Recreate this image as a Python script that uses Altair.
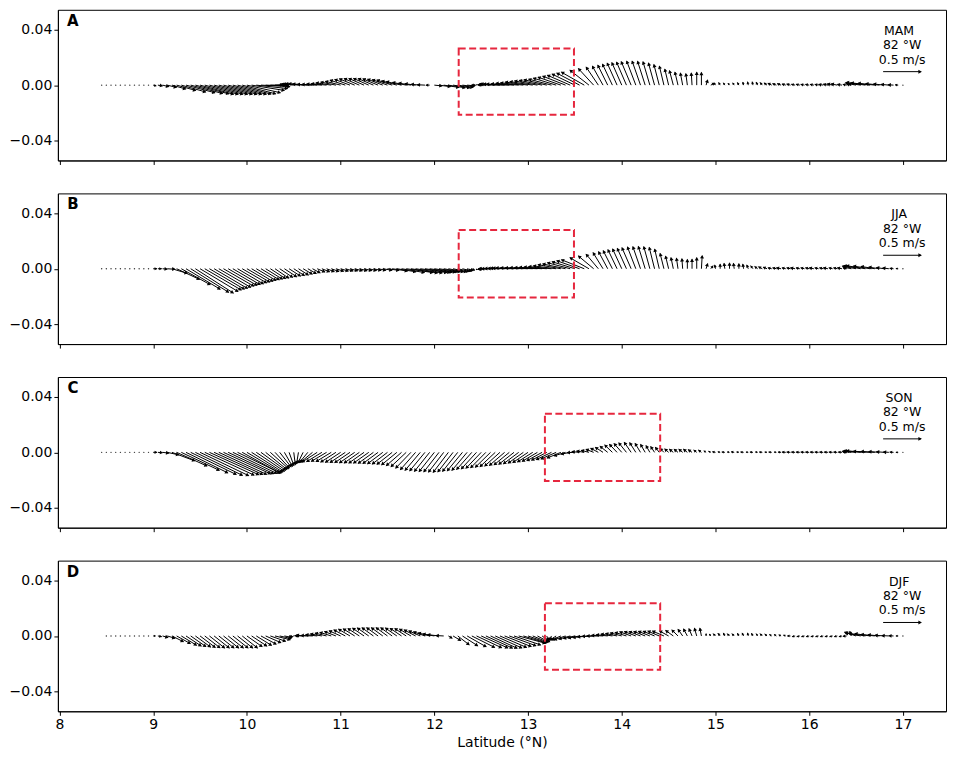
import numpy as np
import pandas as pd
import altair as alt

# ---------------- data ----------------
# stations (latitude, deg N) every 0.05 deg from 8.45 to 17.00
LAT = [round(8.45 + 0.05 * i, 2) for i in range(172)]

SEASONS = ["MAM", "JJA", "SON", "DJF"]
LETTERS = ["A", "B", "C", "D"]
LONGITUDE = "82 °W"
KEY_SPEED = 0.5  # m/s

# red dashed boxes (lat / y-axis units)
BOX_X1 = [12.26, 12.26, 13.18, 13.18]
BOX_X2 = [13.49, 13.49, 14.41, 14.41]
BOX_Y1 = [-0.0214, -0.0207, -0.0207, -0.0243]
BOX_Y2 = [0.0264, 0.0279, 0.0279, 0.0236]

Z11 = [0, 0, 0, 0, 0, 0, 0, 0, 0, 0, 0]

# ---- MAM ----
MAM_U = (Z11 +
    [0.04, 0.06, 0.08, 0.12, 0.18, 0.25, 0.32, 0.38, 0.42, 0.44, 0.44, 0.44, 0.44, 0.44, 0.44, 0.44, 0.44, 0.44, 0.44, 0.44] +
    [0.44, 0.43, 0.41, 0.38, 0.30, 0.20, 0.10, 0.02, -0.05, -0.10, -0.14, -0.17, -0.19, -0.20, -0.20, -0.20, -0.20, -0.20, -0.20, -0.20] +
    [-0.20, -0.20, -0.20, -0.20, -0.20, -0.20, -0.20, -0.20, -0.20, -0.20, -0.20, -0.20, -0.20, -0.20, -0.18, -0.16, -0.14, -0.12, -0.10, -0.05] +
    [0.10, 0.15, 0.20, 0.22, 0.22, 0.20, 0.15, 0.10, 0.05, 0.00, -0.05, -0.10, -0.15, -0.20, -0.25, -0.28, -0.30, -0.30, -0.30, -0.30] +
    [-0.30, -0.30, -0.30, -0.30, -0.30, -0.30, -0.30, -0.30, -0.30, -0.30, -0.30, -0.30, -0.30, -0.25, -0.20, -0.16, -0.14, -0.13, -0.13, -0.13] +
    [-0.13, -0.13, -0.13, -0.12, -0.11, -0.10, -0.09, -0.08, -0.07, -0.06, -0.05, -0.05, -0.04, -0.03, -0.02, -0.01, 0.00, 0.00, 0.02, 0.05] +
    [-0.02, -0.02, -0.02, -0.02, -0.02, -0.02, -0.01, -0.01, -0.01, -0.02, -0.03, -0.04, -0.05, -0.05, -0.05, -0.05, -0.05, -0.05, -0.05, -0.05] +
    [-0.05, -0.05, -0.05, -0.06, -0.06, -0.07, -0.08, -0.06, -0.05, -0.06, -0.10, -0.20, -0.25, -0.25, -0.22, -0.18, -0.14, -0.10, -0.07, -0.04] +
    [0])
MAM_V = (Z11 +
    [-0.01, -0.01, -0.02, -0.03, -0.05, -0.07, -0.09, -0.10, -0.11, -0.115, -0.12, -0.12, -0.12, -0.12, -0.12, -0.12, -0.12, -0.12, -0.118, -0.115] +
    [-0.10, -0.07, -0.045, -0.02, -0.01, 0.00, 0.005, 0.01, 0.01, 0.015, 0.015, 0.02, 0.02, 0.015, 0.01, 0.01, 0.015, 0.02, 0.03, 0.04] +
    [0.05, 0.065, 0.075, 0.082, 0.086, 0.088, 0.088, 0.086, 0.082, 0.078, 0.072, 0.066, 0.056, 0.046, 0.036, 0.026, 0.018, 0.01, 0.005, 0.00] +
    [-0.01, -0.02, -0.03, -0.035, -0.035, -0.03, -0.02, -0.01, 0.00, 0.005, 0.005, 0.008, 0.01, 0.012, 0.013, 0.013, 0.013, 0.017, 0.024, 0.03] +
    [0.04, 0.046, 0.055, 0.063, 0.071, 0.079, 0.092, 0.105, 0.118, 0.13, 0.145, 0.158, 0.17, 0.197, 0.217, 0.237, 0.25, 0.263, 0.276, 0.29] +
    [0.296, 0.303, 0.309, 0.316, 0.316, 0.313, 0.307, 0.29, 0.27, 0.25, 0.21, 0.19, 0.17, 0.158, 0.15, 0.158, 0.17, 0.165, 0.066, 0.026] +
    [0.03, 0.035, 0.03, 0.025, 0.03, 0.035, 0.04, 0.045, 0.045, 0.04, 0.035, 0.03, 0.025, 0.02, 0.02, 0.015, 0.015, 0.012, 0.012, 0.01] +
    [0.01, 0.01, 0.01, 0.01, 0.012, 0.015, 0.015, 0.01, 0.01, 0.012, 0.02, 0.03, 0.035, 0.03, 0.025, 0.02, 0.015, 0.01, 0.005, 0.003] +
    [0])

# ---- JJA ----
JJA_U = (Z11 +
    [0.05, 0.05, 0.06, 0.10, 0.20, 0.30, 0.38, 0.45, 0.50, 0.50, 0.50, 0.48, 0.46, 0.44, 0.42, 0.40, 0.38, 0.36, 0.34, 0.32] +
    [0.30, 0.28, 0.26, 0.24, 0.22, 0.20, 0.18, 0.17, 0.16, 0.15, 0.14, 0.13, 0.12, 0.11, 0.10, 0.10, 0.10, 0.10, 0.10, 0.10] +
    [0.10, 0.10, 0.10, 0.10, 0.10, 0.10, 0.10, 0.10, 0.10, 0.12, 0.15, 0.20, 0.25, 0.30, 0.35, 0.35, 0.35, 0.35, 0.33, 0.30] +
    [0.28, 0.25, 0.22, 0.20, 0.18, 0.15, 0.12, 0.08, 0.04, 0.00, -0.05, -0.10, -0.15, -0.18, -0.20, -0.22, -0.25, -0.28, -0.30, -0.30] +
    [-0.30, -0.30, -0.30, -0.30, -0.30, -0.30, -0.30, -0.30, -0.30, -0.30, -0.30, -0.30, -0.30, -0.25, -0.20, -0.16, -0.13, -0.12, -0.12, -0.12] +
    [-0.12, -0.12, -0.12, -0.11, -0.10, -0.09, -0.08, -0.07, -0.06, -0.05, -0.04, -0.03, -0.02, -0.01, 0.00, 0.00, 0.00, 0.01, 0.02, 0.03] +
    [-0.01, 0.00, -0.01, 0.00, -0.01, 0.00, -0.01, -0.02, -0.03, -0.04, -0.05, -0.05, -0.05, -0.05, -0.06, -0.05, -0.05, -0.06, -0.05, -0.05] +
    [-0.05, -0.06, -0.05, -0.05, -0.06, -0.05, -0.05, -0.06, -0.05, -0.10, -0.18, -0.22, -0.25, -0.22, -0.18, -0.14, -0.10, -0.08, -0.05, -0.03] +
    [0])
JJA_V = (Z11 +
    [0.00, 0.00, -0.005, -0.007, -0.06, -0.14, -0.21, -0.27, -0.31, -0.32, -0.30, -0.28, -0.27, -0.26, -0.245, -0.23, -0.22, -0.21, -0.20, -0.185] +
    [-0.175, -0.167, -0.155, -0.145, -0.137, -0.13, -0.124, -0.113, -0.105, -0.097, -0.09, -0.082, -0.071, -0.063, -0.054, -0.043, -0.04, -0.038, -0.036, -0.033] +
    [-0.031, -0.029, -0.028, -0.027, -0.026, -0.025, -0.024, -0.022, -0.02, -0.02, -0.022, -0.03, -0.04, -0.05, -0.05, -0.055, -0.055, -0.05, -0.05, -0.045] +
    [-0.045, -0.04, -0.04, -0.04, -0.04, -0.035, -0.03, -0.025, -0.02, -0.015, -0.01, -0.005, 0.00, 0.00, 0.003, 0.005, 0.007, 0.008, 0.01, 0.012] +
    [0.012, 0.013, 0.015, 0.018, 0.022, 0.028, 0.037, 0.053, 0.063, 0.079, 0.092, 0.105, 0.118, 0.145, 0.167, 0.19, 0.21, 0.224, 0.237, 0.25] +
    [0.26, 0.267, 0.276, 0.285, 0.29, 0.293, 0.29, 0.28, 0.257, 0.20, 0.165, 0.145, 0.138, 0.13, 0.12, 0.125, 0.145, 0.17, 0.066, 0.04] +
    [0.05, 0.06, 0.07, 0.075, 0.07, 0.065, 0.06, 0.05, 0.04, 0.03, 0.025, 0.02, 0.012, 0.012, 0.012, 0.012, 0.012, 0.012, 0.012, 0.012] +
    [0.012, 0.012, 0.012, 0.012, 0.012, 0.012, 0.012, 0.012, 0.012, 0.02, 0.035, 0.04, 0.04, 0.035, 0.03, 0.02, 0.015, 0.01, 0.005, 0.002] +
    [0])

# ---- SON ----
SON_U = (Z11 +
    [0.05, 0.06, 0.08, 0.15, 0.30, 0.40, 0.50, 0.55, 0.60, 0.62, 0.64, 0.65, 0.65, 0.64, 0.63, 0.62, 0.60, 0.58, 0.56, 0.50] +
    [0.456, 0.41, 0.37, 0.325, 0.28, 0.24, 0.19, 0.15, 0.106, 0.063, 0.02, -0.025, -0.07, -0.11, -0.156, -0.20, -0.20, -0.20, -0.20, -0.20] +
    [-0.20, -0.20, -0.20, -0.20, -0.20, -0.20, -0.20, -0.20, -0.20, -0.20, -0.20, -0.20, -0.20, -0.20, -0.20, -0.20, -0.20, -0.20, -0.20, -0.20] +
    [-0.20, -0.20, -0.20, -0.20, -0.20, -0.20, -0.20, -0.20, -0.20, -0.20, -0.20, -0.20, -0.20, -0.20, -0.20, -0.20, -0.20, -0.20, -0.20, -0.20] +
    [-0.20, -0.20, -0.20, -0.20, -0.20, -0.20, -0.20, -0.18, -0.15, -0.12, -0.10, -0.10, -0.10, -0.10, -0.10, -0.10, -0.10, -0.10, -0.10, -0.10] +
    [-0.10, -0.10, -0.09, -0.08, -0.07, -0.06, -0.05, -0.05, -0.05, -0.05, -0.05, -0.05, -0.05, -0.05, -0.05, -0.05, -0.04, -0.04, -0.03, -0.03] +
    [-0.04, -0.03, -0.04, -0.03, -0.04, -0.03, -0.04, -0.03, -0.04, -0.03, -0.04, -0.03, -0.04, -0.03, -0.04, -0.05, -0.05, -0.05, -0.05, -0.05] +
    [-0.05, -0.05, -0.05, -0.05, -0.05, -0.05, -0.05, -0.05, -0.05, -0.10, -0.18, -0.22, -0.25, -0.22, -0.18, -0.14, -0.10, -0.07, -0.05, -0.03] +
    [0])
SON_V = (Z11 +
    [0.00, -0.005, -0.01, -0.033, -0.112, -0.18, -0.237, -0.27, -0.292, -0.303, -0.307, -0.30, -0.295, -0.292, -0.29, -0.284, -0.282, -0.278, -0.272, -0.276] +
    [-0.27, -0.26, -0.25, -0.237, -0.226, -0.216, -0.205, -0.193, -0.184, -0.174, -0.163, -0.151, -0.142, -0.134, -0.13, -0.128, -0.122, -0.118, -0.122, -0.128] +
    [-0.132, -0.134, -0.136, -0.138, -0.14, -0.141, -0.142, -0.145, -0.147, -0.15, -0.154, -0.158, -0.164, -0.175, -0.188, -0.208, -0.228, -0.237, -0.243, -0.25] +
    [-0.253, -0.257, -0.26, -0.263, -0.257, -0.25, -0.243, -0.237, -0.226, -0.218, -0.21, -0.203, -0.196, -0.188, -0.18, -0.172, -0.164, -0.158, -0.15, -0.142] +
    [-0.134, -0.126, -0.118, -0.11, -0.103, -0.095, -0.087, -0.075, -0.046, -0.024, -0.004, 0.009, 0.017, 0.026, 0.04, 0.053, 0.066, 0.079, 0.096, 0.105] +
    [0.114, 0.124, 0.132, 0.126, 0.116, 0.103, 0.087, 0.076, 0.066, 0.05, 0.045, 0.04, 0.04, 0.04, 0.04, 0.035, 0.03, 0.03, 0.02, 0.015] +
    [0.008, 0.006, 0.005, 0.005, 0.006, 0.005, 0.005, 0.004, 0.004, 0.005, 0.005, 0.004, 0.004, 0.004, 0.003, 0.003, 0.003, 0.003, 0.003, 0.003] +
    [0.003, 0.003, 0.003, 0.003, 0.003, 0.003, 0.003, 0.003, 0.005, 0.01, 0.015, 0.02, 0.02, 0.015, 0.012, 0.01, 0.008, 0.005, 0.003, 0.00] +
    [0])

# ---- DJF ----
DJF_U = ([None, 0, 0, 0, 0, 0, 0, 0, 0, 0, 0] +
    [0.03, 0.05, 0.07, 0.10, 0.15, 0.18, 0.20, 0.20, 0.20, 0.20, 0.20, 0.20, 0.20, 0.20, 0.20, 0.20, 0.20, 0.20, 0.20, 0.20] +
    [0.20, 0.20, 0.20, 0.20, 0.20, 0.20, 0.20, 0.15, 0.10, 0.05, 0.00, -0.05, -0.10, -0.15, -0.15, -0.15, -0.15, -0.15, -0.15, -0.15] +
    [-0.15, -0.15, -0.15, -0.15, -0.15, -0.15, -0.15, -0.15, -0.15, -0.15, -0.15, -0.15, -0.15, -0.15, -0.15, -0.15, -0.15, -0.15, -0.15, -0.15] +
    [-0.15, -0.15, -0.10, 0.05, 0.10, 0.15, 0.20, 0.25, 0.30, 0.33, 0.35, 0.35, 0.35, 0.35, 0.35, 0.35, 0.35, 0.35, 0.35, 0.30] +
    [0.25, 0.20, 0.15, 0.10, 0.02, -0.03, -0.08, -0.12, -0.15, -0.15, -0.15, -0.15, -0.15, -0.15, -0.15, -0.15, -0.15, -0.15, -0.15, -0.15] +
    [-0.15, -0.15, -0.15, -0.15, -0.15, -0.15, -0.15, -0.15, -0.15, -0.15, -0.12, -0.10, -0.08, -0.06, -0.05, -0.04, -0.03, -0.02, 0.00, -0.02] +
    [-0.03, -0.03, -0.02, -0.03, -0.03, -0.02, -0.02, -0.01, -0.02, -0.02, -0.03, -0.03, -0.03, -0.03, -0.03, -0.03, -0.04, -0.04, -0.04, -0.04] +
    [-0.04, -0.04, -0.04, -0.04, -0.04, -0.04, -0.04, -0.04, -0.05, -0.02, -0.15, -0.20, -0.22, -0.20, -0.18, -0.15, -0.12, -0.09, -0.06, -0.03] +
    [0])
DJF_V = ([None, 0, 0, 0, 0, 0, 0, 0, 0, 0, 0] +
    [0.00, -0.01, -0.02, -0.03, -0.075, -0.10, -0.122, -0.132, -0.14, -0.146, -0.151, -0.155, -0.158, -0.158, -0.158, -0.158, -0.158, -0.158, -0.158, -0.158] +
    [-0.141, -0.132, -0.124, -0.108, -0.088, -0.07, -0.05, -0.035, -0.02, -0.01, 0.00, 0.005, 0.005, 0.006, 0.007, 0.017, 0.026, 0.037, 0.047, 0.058] +
    [0.068, 0.079, 0.088, 0.093, 0.097, 0.101, 0.105, 0.107, 0.108, 0.108, 0.109, 0.107, 0.104, 0.10, 0.097, 0.089, 0.079, 0.066, 0.054, 0.04] +
    [0.026, 0.017, 0.005, -0.03, -0.06, -0.116, -0.129, -0.142, -0.151, -0.155, -0.158, -0.16, -0.162, -0.158, -0.151, -0.14, -0.129, -0.118, -0.096, -0.092] +
    [-0.088, -0.083, -0.079, -0.075, -0.06, -0.058, -0.055, -0.052, -0.05, -0.042, -0.033, -0.028, -0.022, -0.014, -0.007, 0.00, 0.008, 0.016, 0.024, 0.032] +
    [0.04, 0.046, 0.054, 0.057, 0.058, 0.059, 0.06, 0.062, 0.063, 0.064, 0.066, 0.072, 0.079, 0.086, 0.091, 0.095, 0.10, 0.101, 0.03, 0.025] +
    [0.03, 0.035, 0.04, 0.03, 0.03, 0.035, 0.04, 0.04, 0.035, 0.03, 0.03, 0.025, 0.02, 0.02, 0.015, 0.01, 0.00, -0.01, -0.01, -0.01] +
    [-0.01, -0.01, -0.01, -0.01, -0.01, -0.01, -0.01, -0.01, -0.005, 0.06, 0.05, 0.04, 0.035, 0.03, 0.02, 0.015, 0.01, 0.005, 0.003, 0.00] +
    [0])

U = [MAM_U, JJA_U, SON_U, DJF_U]
V = [MAM_V, JJA_V, SON_V, DJF_V]
for arr in U + V:
    assert len(arr) == len(LAT), len(arr)

# ---------------- layout / styles ----------------
W, H = 890, 151
X_DOM = [7.983, 17.46]
Y_MAX = 0.0543
PX_X = W / (X_DOM[1] - X_DOM[0])      # px per degree latitude
PX_Y = H / (2 * Y_MAX)                # px per y unit
PX_PER_MS = 76.0                      # quiver scale: px per m/s
FONT = "DejaVu Sans"
RED = "#e6273e"

xs = alt.Scale(domain=X_DOM, nice=False, zero=False)
ys = alt.Scale(domain=[-Y_MAX, Y_MAX], nice=False, zero=False)


def one(**kw):
    return pd.DataFrame({k: [v] for k, v in kw.items()})


def panel(k):
    df = pd.DataFrame({"lat": LAT, "u": U[k], "v": V[k]}).astype(float).dropna()
    dxp = df["u"] * PX_PER_MS
    dyp = df["v"] * PX_PER_MS
    L = np.hypot(dxp, dyp)
    df["y0"] = 0.0
    df["x2"] = df["lat"] + dxp / PX_X
    df["y2"] = dyp / PX_Y
    mv = L > 0
    moving = df[mv].copy()
    Lm = L[mv]
    back = np.minimum(1.5, 0.4 * Lm)
    moving["hx"] = moving["x2"] - back * (dxp[mv] / Lm) / PX_X
    moving["hy"] = moving["y2"] - back * (dyp[mv] / Lm) / PX_Y
    moving["ang"] = (np.degrees(np.arctan2(dxp[mv], dyp[mv])) + 360.0) % 360.0
    moving["hs"] = 2 + 14 * np.minimum(1.0, Lm / 5.0) ** 2
    still = df[~mv]

    last = k == 3
    xaxis = alt.Axis(values=list(range(8, 18)), labels=last, ticks=True, tickSize=4,
                     title="Latitude (°N)" if last else None, format="d")
    yaxis = alt.Axis(values=[-0.04, -0.02, 0.0, 0.02, 0.04], format=".2f", title=None,
                     minExtent=46, maxExtent=46, tickSize=4)

    shafts = alt.Chart(moving).mark_rule(strokeWidth=1.0, color="black").encode(
        x=alt.X("lat:Q", scale=xs, axis=xaxis),
        y=alt.Y("y0:Q", scale=ys, axis=yaxis),
        x2="x2:Q", y2="y2:Q")
    heads = alt.Chart(moving).mark_point(shape="triangle", filled=True, color="black",
                                         opacity=1, strokeWidth=0).encode(
        x="hx:Q", y="hy:Q",
        angle=alt.Angle("ang:Q", scale=None),
        size=alt.Size("hs:Q", scale=None))
    dots = alt.Chart(still).mark_circle(color="black", size=2, opacity=0.8).encode(
        x="lat:Q", y="y0:Q")
    box = alt.Chart(one(x1=BOX_X1[k], x2=BOX_X2[k], y1=BOX_Y1[k], y2=BOX_Y2[k])).mark_rect(
        fillOpacity=0, stroke=RED, strokeWidth=2, strokeDash=[7, 3.5]).encode(
        x="x1:Q", x2="x2:Q", y="y1:Q", y2="y2:Q")

    letter = alt.Chart(one(t=LETTERS[k])).mark_text(
        font=FONT, fontSize=15, fontWeight="bold", align="center", baseline="middle",
        color="black").encode(x=alt.value(15), y=alt.value(11), text="t:N")

    tx = 846
    season = alt.Chart(one(t=SEASONS[k])).mark_text(
        font=FONT, fontSize=12.5, align="center", baseline="middle", color="black").encode(
        x=alt.value(tx - 3), y=alt.value(21), text="t:N")
    lon = alt.Chart(one(t=LONGITUDE)).mark_text(
        font=FONT, fontSize=12.5, align="center", baseline="middle", color="black").encode(
        x=alt.value(tx), y=alt.value(35.5), text="t:N")
    spd = alt.Chart(one(t=f"{KEY_SPEED} m/s")).mark_text(
        font=FONT, fontSize=12.5, align="center", baseline="middle", color="black").encode(
        x=alt.value(tx), y=alt.value(50), text="t:N")
    kx0 = 827
    klen = KEY_SPEED * PX_PER_MS
    key_shaft = alt.Chart(one(t=0)).mark_rule(strokeWidth=1.0, color="black").encode(
        x=alt.value(kx0), x2=alt.value(kx0 + klen), y=alt.value(62), y2=alt.value(62))
    key_head = alt.Chart(one(t=0)).mark_point(shape="triangle", filled=True, color="black",
                                              opacity=1, strokeWidth=0, size=16).encode(
        x=alt.value(kx0 + klen - 1.5), y=alt.value(62), angle=alt.value(90))

    return alt.layer(shafts, heads, dots, box, letter, season, lon, spd,
                     key_shaft, key_head).properties(width=W, height=H)


chart = alt.vconcat(*[panel(k) for k in range(4)], spacing=27).properties(
    padding={"left": 0, "top": 0, "right": 0, "bottom": 0}
).configure_view(stroke="black", strokeWidth=1).configure_axis(
    grid=False, labelFont=FONT, labelFontSize=14, labelColor="black",
    titleFont=FONT, titleFontSize=14, titleFontWeight="normal", titleColor="black",
    tickColor="black", domainColor="black", labelPadding=2, titlePadding=4)

chart.save("out.html", embed_options={"renderer": "svg", "actions": False})
